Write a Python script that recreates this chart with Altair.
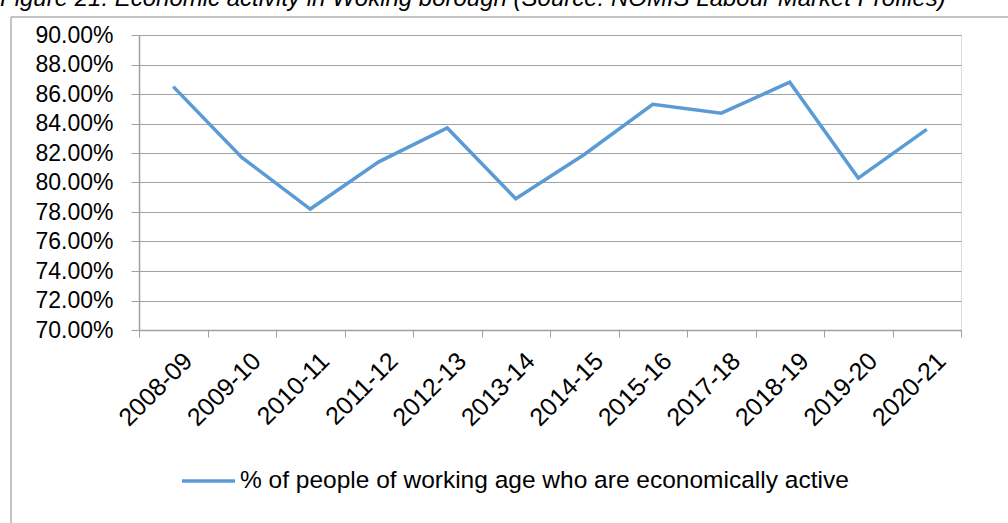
import altair as alt
import pandas as pd

# ---- data ----
years = ["2008-09", "2009-10", "2010-11", "2011-12", "2012-13", "2013-14",
         "2014-15", "2015-16", "2017-18", "2018-19", "2019-20", "2020-21"]
active = [0.865, 0.817, 0.782, 0.814, 0.837, 0.789,
          0.819, 0.853, 0.847, 0.868, 0.803, 0.836]
y_ticks = [0.70, 0.72, 0.74, 0.76, 0.78, 0.80, 0.82, 0.84, 0.86, 0.88, 0.90]
series_name = "% of people of working age who are economically active"
title_text = "Figure 21: Economic activity in Woking borough (Source: NOMIS Labour Market Profiles)"

df = pd.DataFrame({"year": years, "value": active})

FONT = "Liberation Sans"
GREY = "#a0a0a0"
BLUE = "#5B9BD5"
W, H = 822, 295
PL, PT = 139, 35

line = alt.Chart(df).mark_line(color=BLUE, strokeWidth=3.5).encode(
    x=alt.X("year:O", sort=years,
            scale=alt.Scale(type="band", paddingInner=0, paddingOuter=0),
            bandPosition=0.5,
            axis=alt.Axis(title=None, labelAngle=-45, labelFontSize=25,
                          labelFont=FONT, labelColor="black",
                          tickBand="extent", tickSize=7, tickColor=GREY,
                          domainColor=GREY, domainWidth=1.5, grid=False,
                          labelPadding=11, labelOffset=6,
                          labelOverlap=False)),
    y=alt.Y("value:Q",
            scale=alt.Scale(domain=[0.70, 0.90], nice=False, zero=False),
            axis=alt.Axis(title=None, values=y_ticks, format=".2%",
                          labelFontSize=23, labelFont=FONT, labelColor="black",
                          tickSize=8, tickColor=GREY, domainColor=GREY,
                          domainWidth=1.5, gridColor=GREY, gridWidth=1.2,
                          labelPadding=18, labelFlush=False,
                          labelOverlap=False)),
)

one = alt.Data(values=[{"a": 1}])

title = alt.Chart(one).mark_text(
    text=title_text, font=FONT, fontSize=24, fontStyle="italic",
    align="left", baseline="alphabetic", color="black"
).encode(x=alt.value(-PL), y=alt.value(6 - PT))

frame_left = alt.Chart(one).mark_rule(color="#b0b0b0", strokeWidth=1.5).encode(
    x=alt.value(11 - PL), y=alt.value(17 - PT), y2=alt.value(523 - PT))
frame_top = alt.Chart(one).mark_rule(color="#b0b0b0", strokeWidth=1.5).encode(
    x=alt.value(11 - PL), x2=alt.value(1008 - PL), y=alt.value(17 - PT))

leg_line = alt.Chart(one).mark_rule(color=BLUE, strokeWidth=3.5).encode(
    x=alt.value(182 - PL), x2=alt.value(235 - PL), y=alt.value(481 - PT))
leg_text = alt.Chart(one).mark_text(
    text=series_name, font=FONT, fontSize=24.5, align="left",
    baseline="middle", color="black"
).encode(x=alt.value(240 - PL), y=alt.value(481 - PT))

chart = alt.layer(line, frame_left, frame_top, title, leg_line, leg_text).properties(
    width=W, height=H,
    autosize=alt.AutoSizeParams(type="none"),
    padding={"left": PL, "top": PT, "right": 1008 - PL - W, "bottom": 523 - PT - H},
).configure_view(stroke=None).configure(font=FONT, background="white")

chart.save("out.html", embed_options={"renderer": "svg", "actions": False})
